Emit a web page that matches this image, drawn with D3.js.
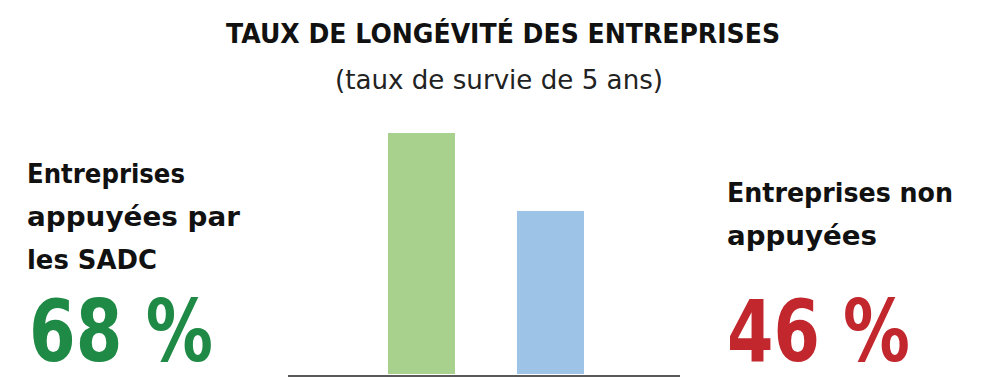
<!DOCTYPE html>
<html>
<head>
<meta charset="utf-8">
<script src="https://cdn.jsdelivr.net/npm/d3@7"></script>
<style>
  body { margin: 0; background: #fff; }
  text { font-family: "DejaVu Sans", sans-serif; }
</style>
</head>
<body>
<script>
const w = 1000
const h = 388

// data
const groups = ["SADC", "Non"]
const rates = [68, 46]
const barColors = ["#a9d18e", "#9dc3e6"]
const valueColors = ["#1f8a45", "#c1272d"]
const labelLines = [["Entreprises", "appuyées par", "les SADC"], ["Entreprises non", "appuyées"]]
const title = "TAUX DE LONGÉVITÉ DES ENTREPRISES"
const subtitle = "(taux de survie de 5 ans)"

const svg = d3.select("body").append("svg").attr("width", w).attr("height", h)

const xPos = d3.scaleOrdinal().domain(groups).range([388, 517])
const bw = 67
const y = d3.scaleLinear().domain([0, 68]).range([374, 133])

svg.append("text").attr("x", 503).attr("y", 43).attr("text-anchor", "middle")
  .attr("font-size", 27).attr("font-weight", "bold").attr("fill", "#111")
  .attr("textLength", 554).attr("lengthAdjust", "spacingAndGlyphs").text(title)
svg.append("text").attr("x", 499).attr("y", 89).attr("text-anchor", "middle")
  .attr("font-size", 27).attr("fill", "#222")
  .attr("textLength", 328).attr("lengthAdjust", "spacingAndGlyphs").text(subtitle)

svg.selectAll("rect.bar").data(rates).enter().append("rect").attr("class", "bar")
  .attr("x", (d, i) => xPos(groups[i])).attr("width", bw)
  .attr("y", d => y(d)).attr("height", d => y(0) - y(d))
  .attr("fill", (d, i) => barColors[i])

svg.append("line").attr("x1", 288).attr("x2", 680).attr("y1", 376).attr("y2", 376)
  .attr("stroke", "#222").attr("stroke-width", 1.5)

// labels
const leftBase = [183, 226, 269]
const leftLen = [158, 213, 130]
labelLines[0].forEach((t, i) => {
  svg.append("text").attr("x", 27).attr("y", leftBase[i]).attr("font-size", 26.5)
    .attr("font-weight", "bold").attr("fill", "#111")
    .attr("textLength", leftLen[i]).attr("lengthAdjust", "spacingAndGlyphs").text(t)
})
const rightBase = [202, 245]
const rightLen = [226, 150]
labelLines[1].forEach((t, i) => {
  svg.append("text").attr("x", 727).attr("y", rightBase[i]).attr("font-size", 26.5)
    .attr("font-weight", "bold").attr("fill", "#111")
    .attr("textLength", rightLen[i]).attr("lengthAdjust", "spacingAndGlyphs").text(t)
})

const valX = [29, 727]
const valLen = [184, 183]
rates.forEach((v, i) => {
  svg.append("text").attr("x", valX[i]).attr("y", 361).attr("font-size", 86)
    .attr("font-weight", "bold").attr("fill", valueColors[i])
    .attr("textLength", valLen[i]).attr("lengthAdjust", "spacingAndGlyphs").text(v + " %")
})
</script>
</body>
</html>
